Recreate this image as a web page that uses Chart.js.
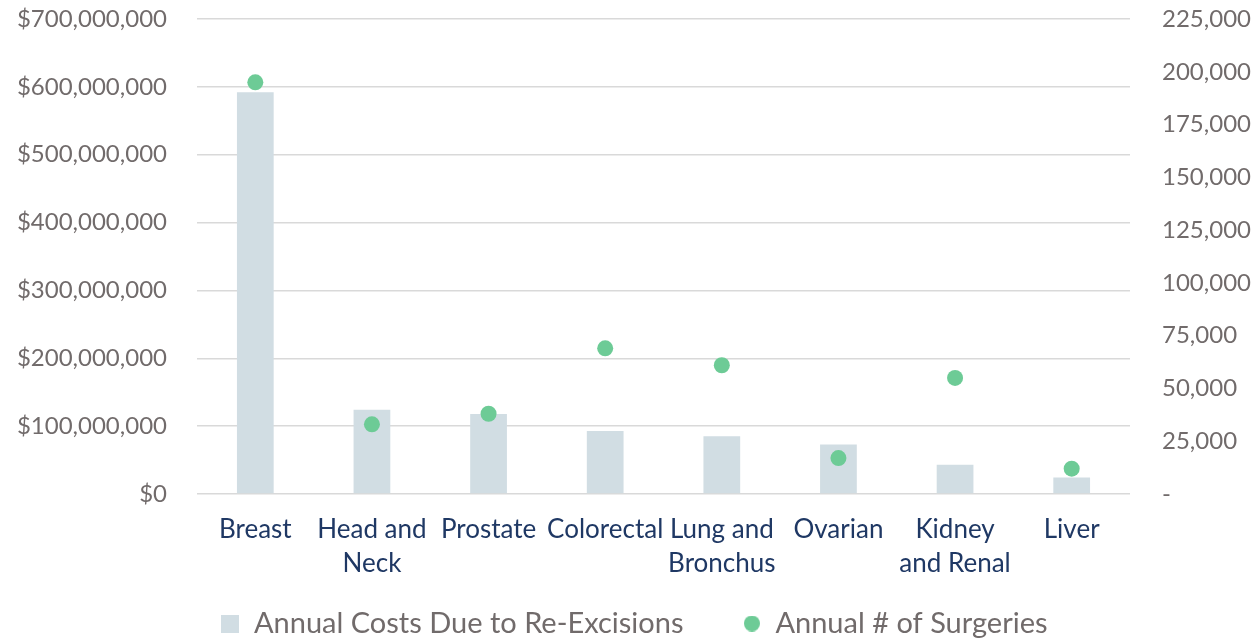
<!DOCTYPE html>
<html>
<head>
<meta charset="utf-8">
<script src="https://cdn.jsdelivr.net/npm/chart.js@4"></script>
<style>
  html, body { margin: 0; padding: 0; background: #fff; }
  #wrap { width: 1255px; height: 640px; }
</style>
</head>
<body>
<div id="wrap"><canvas id="chart"></canvas></div>
<script>
var categories = ['Breast', ['Head and', 'Neck'], 'Prostate', 'Colorectal', ['Lung and', 'Bronchus'], 'Ovarian', ['Kidney', 'and Renal'], 'Liver'];
var reExcisionCosts = [592000000, 124000000, 118000000, 93000000, 85000000, 73000000, 43000000, 24500000];
var surgeries = [195000, 33000, 38000, 69000, 61000, 17000, 55000, 12000];

var barColor = '#d1dde3';
var dotColor = '#6dcb96';
var tickGray = '#716b6b';

// small legend markers: square for the bars, dot for the surgeries
function marker(kind, size, color) {
    var c = document.createElement('canvas');
    c.width = size;
    c.height = size;
    var g = c.getContext('2d');
    g.fillStyle = color;
    if (kind === 'rect') {
        g.fillRect(0, 0, size, size);
    } else {
        g.beginPath();
        g.arc(size / 2, size / 2, size / 2, 0, Math.PI * 2);
        g.fill();
    }
    return c;
}
var squareMark = marker('rect', 18, barColor);
var dotMark = marker('circle', 16, dotColor);

var ctx = document.getElementById('chart').getContext('2d');
var myChart = new Chart(ctx, {
    type: 'bar',
    data: {
        labels: categories,
        datasets: [{
            type: 'line',
            label: 'Annual # of Surgeries',
            data: surgeries,
            yAxisID: 'y1',
            showLine: false,
            pointStyle: 'circle',
            pointRadius: 8,
            pointHoverRadius: 8,
            backgroundColor: dotColor,
            borderColor: dotColor,
            borderWidth: 0,
            order: 0
        },
        {
            type: 'bar',
            label: 'Annual Costs Due to Re-Excisions',
            data: reExcisionCosts,
            yAxisID: 'y',
            backgroundColor: barColor,
            borderWidth: 0,
            categoryPercentage: 1,
            barPercentage: 0.315,
            order: 1
        }]
    },
    options: {
        responsive: true,
        maintainAspectRatio: false,
        animation: false,
        layout: { padding: { left: 14, right: 0, top: 19, bottom: -8 } },
        plugins: {
            tooltip: { enabled: false },
            legend: {
                position: 'bottom',
                labels: {
                    usePointStyle: true,
                    boxWidth: 18,
                    boxHeight: 18,
                    padding: 0,
                    color: tickGray,
                    font: { family: 'Lato', size: 29 },
                    generateLabels: function (chart) {
                        return [
                            { text: chart.data.datasets[1].label + '        ', pointStyle: squareMark, fillStyle: barColor, strokeStyle: barColor, lineWidth: 0, fontColor: tickGray, datasetIndex: 1, hidden: false },
                            { text: chart.data.datasets[0].label, pointStyle: dotMark, fillStyle: dotColor, strokeStyle: dotColor, lineWidth: 0, fontColor: tickGray, datasetIndex: 0, hidden: false }
                        ];
                    }
                }
            }
        },
        scales: {
            x: {
                grid: { display: false },
                border: { display: false },
                ticks: {
                    color: '#1f3864',
                    font: { family: 'Lato', size: 26, lineHeight: 1.31 },
                    maxRotation: 0,
                    autoSkip: false,
                    padding: 11
                },
                afterFit: function (scale) { scale.height = 115; }
            },
            y: {
                position: 'left',
                min: 0,
                max: 700000000,
                grid: { color: '#d9d9d9', lineWidth: 1.5, drawTicks: false },
                border: { display: false },
                ticks: {
                    stepSize: 100000000,
                    color: tickGray,
                    padding: 30,
                    font: { family: 'Lato', size: 24 },
                    callback: function (v) { return '$' + v.toLocaleString('en-US'); }
                },
                afterFit: function (scale) {
                    scale.width = 183;
                    scale.paddingTop = 0;
                    scale.paddingBottom = 0;
                }
            },
            y1: {
                position: 'right',
                min: 0,
                max: 225000,
                grid: { display: false, drawTicks: false },
                border: { display: false },
                ticks: {
                    stepSize: 25000,
                    color: tickGray,
                    padding: 32,
                    font: { family: 'Lato', size: 24 },
                    callback: function (v) { return v === 0 ? '-' : v.toLocaleString('en-US'); }
                },
                afterFit: function (scale) {
                    scale.width = 125;
                    scale.paddingTop = 0;
                    scale.paddingBottom = 0;
                }
            }
        }
    }
});
</script>
</body>
</html>
